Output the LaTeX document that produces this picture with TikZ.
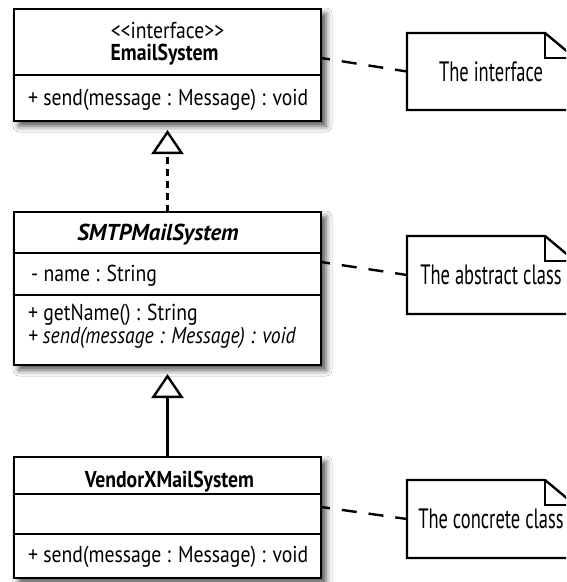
\documentclass[tikz,border=0pt]{standalone}
\usepackage{fontspec}
\setmainfont{PT Sans}
\newfontfamily\boxfont[FakeStretch=0.856]{PT Sans}
\newfontfamily\bifont[FakeStretch=0.99]{PT Sans}
\newfontfamily\notefont[FakeStretch=0.66]{PT Sans}
\usetikzlibrary{arrows.meta,shadows.blur}
\tikzset{
  lw/.style={line width=2.4pt},
  outerbox/.style={lw, draw, fill=white, minimum width=307pt, anchor=north west,
    inner sep=0pt, outer sep=0pt,
    blur shadow={shadow xshift=5pt, shadow yshift=-5pt, shadow blur radius=6pt, shadow opacity=70}},
  comp/.style={lw, draw, fill=white, minimum width=307pt, anchor=north west, inner sep=0pt, outer sep=0pt},
  btxt/.style={inner sep=0pt, font=\boxfont\fontsize{23pt}{17pt}\selectfont},
  bbold/.style={btxt, font=\boxfont\bfseries\fontsize{23pt}{21pt}\selectfont},
  bbit/.style={btxt, font=\bifont\bfseries\itshape\fontsize{23pt}{21pt}\selectfont},
  notebox/.style={minimum width=168pt, inner sep=0pt, outer sep=0pt,
    font=\notefont\fontsize{28pt}{30pt}\selectfont},
  noteline/.style={lw, draw, line join=miter},
  dashline/.style={lw, dash pattern=on 15pt off 12pt, dash phase=6pt},
  realize/.style={lw, dash pattern=on 7pt off 5pt, shorten >=9pt,
    -{Triangle[open, fill=white, length=24pt, width=32pt, line width=2.4pt]}},
  generalize/.style={lw, shorten >=9pt,
    -{Triangle[open, fill=white, length=24pt, width=32pt, line width=2.4pt]}},
}
\begin{document}
\begin{tikzpicture}[x=1pt,y=-1pt]
\fill[white] (0,0) rectangle (566,582);
\useasboundingbox (0,0) rectangle (566,582);
\clip (0,0) rectangle (566,582);

% ---- EmailSystem
\node[outerbox, minimum height=112pt] (box1) at (14,9) {};
\node[comp, minimum height=66pt] (b1n) at (14,9) {};
\node[comp, minimum height=46pt] (b1o) at (14,75) {};
\node[btxt, anchor=base] (t1a) at (167.5,38) {<{}<interface>{}>};
\node[bbold, anchor=base] (t1b) at (164.5,60) {EmailSystem};
\node[btxt, anchor=base west] (t1c) at (28,105) {+ send(message : Message) : void};

% ---- SMTPMailSystem
\node[outerbox, minimum height=153pt] (box2) at (14,212) {};
\node[comp, minimum height=41pt] (b2n) at (14,212) {};
\node[comp, minimum height=42pt] (b2a) at (14,253) {};
\node[comp, minimum height=70pt] (b2o) at (14,295) {};
\node[bbit, anchor=base] (t2a) at (158,240) {SMTPMailSystem};
\node[btxt, anchor=base west] (t2b) at (31,281) {- name : String};
\node[btxt, anchor=base west, align=left] (t2c) at (28,343)
  {+ getName() : String\\{\itshape + send(message : Message) : void}};

% ---- VendorXMailSystem
\node[outerbox, minimum height=121pt] (box3) at (14,457) {};
\node[comp, minimum height=37pt] (b3n) at (14,457) {};
\node[comp, minimum height=40pt] (b3a) at (14,494) {};
\node[comp, minimum height=44pt] (b3o) at (14,534) {};
\node[bbold, anchor=base] (t3a) at (169.5,487) {VendorXMailSystem};
\node[btxt, anchor=base west] (t3b) at (28,562) {+ send(message : Message) : void};

% ---- inheritance
\draw[realize] (box2.north) -- (box1.south);
\draw[generalize] (box3.north) -- (box2.south);

% ---- notes
\node[notebox, minimum height=77pt] (n1) at (491,71.5) {The interface};
\node[notebox, minimum height=78pt] (n2) at (491,275) {The abstract class};
\node[notebox, minimum height=78pt] (n3) at (491,519) {The concrete class};
\foreach \n in {n1,n2,n3}{
  \draw[noteline] (\n.south west) -- (\n.north west) -- ([xshift=-30pt]\n.north east)
     -- ([yshift=-25pt]\n.north east) -- (\n.south east) -- cycle;
  \draw[lw, line join=miter] ([xshift=-30pt]\n.north east) |- ([yshift=-25pt]\n.north east);
}

% ---- note connectors
\draw[dashline] ([yshift=7pt]box1.east) -- (n1.west);
\draw[dashline] ([yshift=26.5pt]box2.east) -- (n2.west);
\draw[dashline] ([yshift=10.5pt]box3.east) -- (n3.west);
\end{tikzpicture}
\end{document}
